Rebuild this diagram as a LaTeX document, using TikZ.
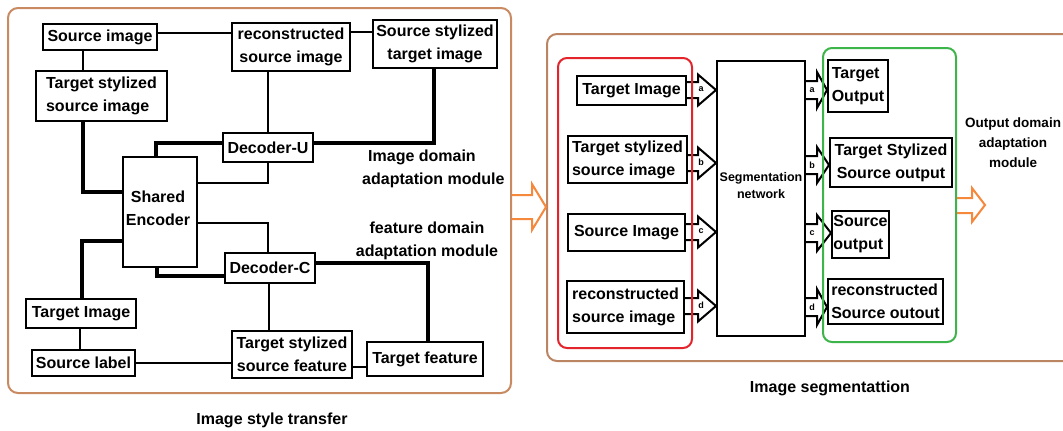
\documentclass[tikz,border=0pt]{standalone}
\usepackage{fontspec}
\setmainfont{Liberation Sans}
\usetikzlibrary{calc}
\definecolor{lbrown}{HTML}{C98A62}
\definecolor{rbrown}{HTML}{BB8463}
\definecolor{myred}{HTML}{E3242B}
\definecolor{mygreen}{HTML}{3DB54A}
\definecolor{myorange}{HTML}{F5883A}
\newcommand{\larr}[3]{%
  \draw[barr] (#1.east |- 0,#2-8) -- (698,#2-8) -- (698,#2-15.5) -- (seg.west |- 0,#2) -- (698,#2+15.5) -- (698,#2+8) -- (#1.east |- 0,#2+8);
  \node[lab] (l#3) at (701,#2-1) {#3};}
\newcommand{\rarr}[3]{%
  \draw[barr] (seg.east |- 0,#2-9) -- (817,#2-9) -- (817,#2-18) -- (#1.west |- 0,#2) -- (817,#2+18) -- (817,#2+9) -- (seg.east |- 0,#2+9);
  \node[lab] (r#3) at (812,#2) {#3};}
\begin{document}
\begin{tikzpicture}[x=1pt,y=-1pt,
  font=\bfseries\fontsize{16}{23}\selectfont,
  bx/.style={draw, line width=2pt, inner sep=0pt, align=center},
  sz/.style 2 args={minimum width=#1pt, minimum height=#2pt},
  cthin/.style={line width=1.6pt},
  cthick/.style={line width=3.8pt},
  cmed/.style={line width=2.6pt},
  barr/.style={draw, line width=2pt, line join=miter},
  oarr/.style={draw=myorange, line width=2pt, line join=miter},
  lab/.style={font=\bfseries\fontsize{9}{9}\selectfont, inner sep=0pt},
  txt/.style={inner sep=0pt}]
\useasboundingbox (0,0) rectangle (1063,431);
\fill[white] (0,0) rectangle (1063,431);
% containers
\node[draw=lbrown, line width=2pt, rounded corners=10pt, sz={503}{385}] (lbox) at (259.5,200.5) {};
\node[draw=rbrown, line width=2pt, rounded corners=10pt, sz={528}{327}] (rbox) at (811,197.5) {};
% left part nodes
\node[bx, sz={114}{26}] (srcimg) at (100,37) {Source image};
\node[bx, sz={118}{48}] (recon) at (291,47) {reconstructed\\source image};
\node[bx, sz={124}{48}] (sstyl) at (435,44) {Source stylized\\target image};
\node[bx, sz={131}{50}, align=left] (tstyl) at (101.5,96) {Target stylized\\source image};
\node[bx, sz={90}{29}] (decU) at (268,147.5) {Decoder-U};
\node[bx, sz={74}{110}] (enc) at (160,212) {};
\node[txt, align=center] (enctxt) at (158,208.5) {Shared\\Encoder};
\node[bx, sz={90}{30}] (decC) at (270,268) {Decoder-C};
\node[bx, sz={110}{29}] (timg) at (81,313.5) {Target Image};
\node[bx, sz={103}{26}] (slabel) at (83.5,363) {Source label};
\node[bx, sz={120}{47}] (tsf) at (292,354.5) {Target stylized\\source feature};
\node[bx, sz={116}{34}] (tfeat) at (425,359) {Target feature};
% left connectors
\draw[cthin] (srcimg.east |- 0,33) -- (recon.west |- 0,33);
\draw[cmed] (recon.east |- 0,32) -- (sstyl.west |- 0,32);
\draw[cthin] (srcimg.south -| 83,0) -- (tstyl.north -| 83,0);
\draw[cthin] (recon.south -| decU.north) -- (decU.north);
\draw[cthick] (sstyl.south -| 434,0) |- (decU.east |- 0,143);
\draw[cthick] (decU.west |- 0,143) -| (enc.north -| 156,0);
\draw[cthin] (decU.south) |- (enc.east |- 0,183);
\draw[cthick] (tstyl.south -| 83,0) |- (enc.west |- 0,192);
\draw[cthin] (enc.east |- 0,223) -| (decC.north -| 268,0);
\draw[cthick] (enc.south -| 157,0) |- (decC.west |- 0,276);
\draw[cthick] (enc.west |- 0,241) -| (timg.north -| 82,0);
\draw[cthick] (decC.east |- 0,263) -| (tfeat.north -| 428,0);
\draw[cthin] (decC.south -| 269,0) -- (tsf.north -| 269,0);
\draw[cthin] (timg.south -| 80,0) -- (slabel.north -| 80,0);
\draw[cthin] (slabel.east |- 0,363) -- (tsf.west |- 0,363);
\draw[cmed] (tsf.east |- 0,367) -- (tfeat.west |- 0,367);
% left labels
\node[txt, align=left, anchor=west] (idam) at (362,168.5) {\hspace*{6pt}Image domain\\adaptation module};
\node[txt, align=center] (fdam) at (427,240.5) {feature domain\\adaptation module};
\node[txt] (ist) at (272,420) {Image style transfer};
% middle orange arrow
\draw[oarr] (lbox.east |- 0,195) -- (532,195) -- (532,184) -- (rbox.west |- 0,207) -- (532,230) -- (532,219) -- (lbox.east |- 0,219);
% right part nodes
\node[bx, sz={88}{275}] (seg) at (761,198.5) {};
\node[txt, align=center, font=\bfseries\fontsize{12.5}{17}\selectfont] (segtxt) at (761,185.5) {Segmentation\\network};
\node[bx, sz={109}{29}] (rtimg) at (631.5,90.5) {Target Image};
\node[bx, sz={119}{47}, align=left] (rtstyl) at (627.5,159.5) {Target stylized\\source image};
\node[bx, sz={117}{37}, align=left] (rsrc) at (626.5,232.5) {Source Image};
\node[bx, sz={117}{52}, align=left] (rrecon) at (625.5,307) {reconstructed\\source image};
\node[bx, sz={60}{52}, align=left] (tout) at (858,86) {Target\\Output};
\node[bx, sz={122}{49}] (tsso) at (891,162.5) {Target Stylized\\Source output};
\node[bx, sz={57}{47}, align=left] (sout) at (860.5,234.5) {Source\\output};
\node[bx, sz={115}{45}, align=left] (rso) at (885.5,301.5) {reconstructed\\Source outout};
% block arrows
\larr{rtimg}{90}{a}
\larr{rtstyl}{163}{b}
\larr{rsrc}{232}{c}
\larr{rrecon}{306}{d}
\rarr{tout}{90}{a}
\rarr{tsso}{165}{b}
\rarr{sout}{233}{c}
\rarr{rso}{307}{d}
% red and green groups
\node[draw=myred, line width=2pt, rounded corners=9pt, sz={134}{290}] (redg) at (625,203) {};
\node[draw=mygreen, line width=2pt, rounded corners=9pt, sz={133}{294}] (greeng) at (889.5,195) {};
% right orange arrow
\coordinate (otip) at (985,205);
\draw[oarr] (greeng.east |- 0,198) -- (972,198) -- (972,188) -- (otip) -- (972,222) -- (972,213) -- (greeng.east |- 0,213);
% right labels
\node[txt, align=center, font=\bfseries\fontsize{13.5}{20}\selectfont] (odam) at (1013,143) {Output domain\\adaptation\\module};
\node[txt] (iseg) at (830,388) {Image segmentattion};
\end{tikzpicture}
\end{document}
